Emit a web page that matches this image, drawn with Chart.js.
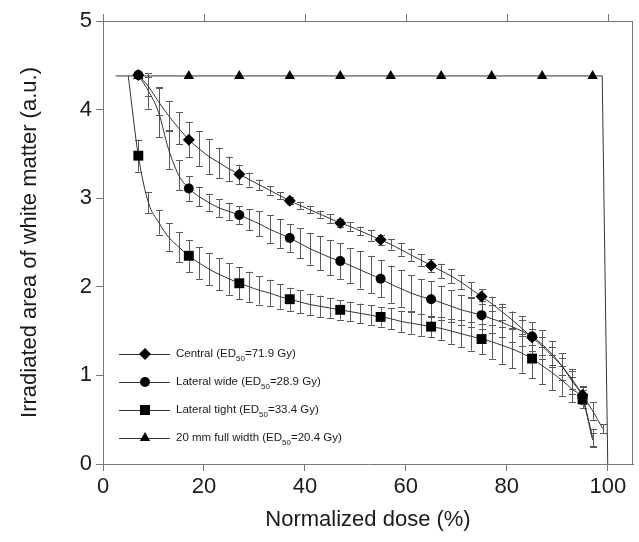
<!DOCTYPE html>
<html><head><meta charset="utf-8">
<script src="https://cdn.jsdelivr.net/npm/chart.js@4.4.1/dist/chart.umd.min.js"></script>
<style>html,body{margin:0;padding:0;background:#fff}#wrap{width:639px;height:542px;position:relative}</style>
</head><body><div id="wrap"><canvas id="c" width="639" height="542"></canvas></div>
<script>
// ---- data ----
const xTickLabels = [0, 20, 40, 60, 80, 100];
const yTickLabels = [0, 1, 2, 3, 4, 5];

const centralDose = [7,9,11,13,15,17,19,21,23,25,27,29,31,33,35,37,39,41,43,45,47,49,51,53,55,57,59,61,63,65,67,69,71,73,75,77,79,81,83,85,87,89,91,93,95,97,99];
const centralArea = [4.39,4.26,4.09,3.93,3.79,3.66,3.56,3.47,3.40,3.33,3.27,3.21,3.15,3.09,3.03,2.97,2.92,2.87,2.82,2.77,2.72,2.68,2.63,2.58,2.53,2.48,2.42,2.36,2.30,2.24,2.18,2.12,2.05,1.97,1.89,1.81,1.72,1.63,1.53,1.43,1.33,1.22,1.10,0.95,0.78,0.60,0.40];
const centralErr = [0.03,0.11,0.15,0.17,0.18,0.20,0.20,0.20,0.17,0.14,0.11,0.08,0.06,0.05,0.04,0.04,0.04,0.04,0.04,0.05,0.05,0.05,0.05,0.06,0.06,0.06,0.07,0.07,0.07,0.07,0.08,0.08,0.08,0.08,0.08,0.08,0.09,0.09,0.09,0.09,0.10,0.10,0.10,0.10,0.10,0.10,0.05];
const centralMarkers = [7,17,27,37,47,55,65,75,85,95];

const wideDose = [7,9,11,13,15,17,19,21,23,25,27,29,31,33,35,37,39,41,43,45,47,49,51,53,55,57,59,61,63,65,67,69,71,73,75,77,79,81,83,85,87,89,91,93,95,97];
const wideArea = [4.39,4.21,3.97,3.55,3.26,3.11,3.02,2.95,2.89,2.85,2.81,2.76,2.71,2.65,2.60,2.55,2.49,2.43,2.38,2.33,2.29,2.24,2.19,2.14,2.09,2.03,1.98,1.93,1.89,1.86,1.82,1.78,1.74,1.71,1.68,1.64,1.60,1.55,1.50,1.44,1.35,1.24,1.10,0.93,0.75,0.30];
const wideErr = [0.03,0.20,0.28,0.22,0.17,0.14,0.11,0.10,0.10,0.10,0.10,0.12,0.14,0.16,0.16,0.16,0.17,0.18,0.19,0.20,0.20,0.20,0.21,0.21,0.21,0.21,0.21,0.20,0.20,0.20,0.19,0.18,0.17,0.16,0.16,0.16,0.17,0.17,0.17,0.16,0.16,0.15,0.15,0.14,0.12,0.10];
const wideMarkers = [7,17,27,37,47,55,65,75,85,95];

const tightDose = [5,7,9,11,13,15,17,19,21,23,25,27,29,31,33,35,37,39,41,43,45,47,49,51,53,55,57,59,61,63,65,67,69,71,73,75,77,79,81,83,85,87,89,91,93,95,97];
const tightArea = [4.38,3.48,2.95,2.73,2.56,2.45,2.35,2.27,2.20,2.14,2.09,2.04,2.00,1.96,1.93,1.89,1.86,1.83,1.80,1.78,1.76,1.74,1.72,1.70,1.68,1.66,1.64,1.61,1.59,1.57,1.55,1.53,1.50,1.47,1.44,1.41,1.38,1.34,1.30,1.25,1.19,1.11,1.03,0.94,0.84,0.73,0.27];
const tightErr = [0,0.18,0.12,0.14,0.16,0.17,0.18,0.18,0.18,0.18,0.18,0.18,0.17,0.16,0.15,0.14,0.13,0.13,0.12,0.12,0.11,0.11,0.11,0.11,0.11,0.11,0.12,0.12,0.12,0.12,0.12,0.13,0.14,0.15,0.16,0.17,0.19,0.21,0.22,0.22,0.22,0.21,0.20,0.17,0.14,0.10,0.08];
const tightMarkers = [7,17,27,37,47,55,65,75,85,95];

const fullDose = [2.5,7,17,27,37,47,57,67,77,87,97,98.9,100];
const fullArea = [4.38,4.38,4.38,4.38,4.38,4.38,4.38,4.38,4.38,4.38,4.38,4.38,0];
const fullMarkers = [7,17,27,37,47,57,67,77,87,97];

const seriesNames = ['Central', 'Lateral wide', 'Lateral tight', '20 mm full width'];
const ed50Values = ['71.9', '28.9', '33.4', '20.4'];
const xTitle = 'Normalized dose (%)';
const yTitle = 'Irradiated area of white matter (a.u.)';

// ---- build ----
function pts(xs, ys) { return xs.map((x, i) => ({ x: x, y: ys[i] })); }
function radiusFor(markers, r) {
  return ctx => (ctx.raw && markers.includes(ctx.raw.x)) ? r : 0;
}
const FONT = '"Liberation Sans", Arial, sans-serif';
const INK = '#1a1a1a';
const LINE = '#333';

const datasets = [
  { label: seriesNames[0], data: pts(centralDose, centralArea), err: centralErr, pointStyle: 'rectRot', pointRadius: radiusFor(centralMarkers, 6) },
  { label: seriesNames[1], data: pts(wideDose, wideArea), err: wideErr, pointStyle: 'circle', pointRadius: radiusFor(wideMarkers, 5) },
  { label: seriesNames[2], data: pts(tightDose, tightArea), err: tightErr, pointStyle: 'rect', pointRadius: radiusFor(tightMarkers, 7) },
  { label: seriesNames[3], data: pts(fullDose, fullArea), pointStyle: 'triangle', pointRadius: radiusFor(fullMarkers, 6), tension: 0, cubicInterpolationMode: 'default' }
].map(d => Object.assign({
  borderColor: LINE, borderWidth: 1, backgroundColor: '#000', pointBackgroundColor: '#000', pointBorderColor: '#000',
  pointBorderWidth: 0, pointHoverRadius: 0, fill: false, cubicInterpolationMode: 'monotone'
}, d));

const errorBarPlugin = {
  id: 'errorBars',
  beforeDatasetsDraw(chart) {
    const ctx = chart.ctx, xs = chart.scales.x, ys = chart.scales.y;
    ctx.save();
    ctx.strokeStyle = '#5a5a5a';
    ctx.lineWidth = 1;
    chart.data.datasets.forEach(ds => {
      if (!ds.err) return;
      ds.data.forEach((p, i) => {
        const e = ds.err[i];
        if (!e) return;
        const px = Math.round(xs.getPixelForValue(p.x)) + 0.5;
        const y1 = ys.getPixelForValue(p.y + e), y2 = ys.getPixelForValue(p.y - e);
        ctx.beginPath();
        ctx.moveTo(px, y1); ctx.lineTo(px, y2);
        ctx.moveTo(px - 3.5, Math.round(y1) + 0.5); ctx.lineTo(px + 3.5, Math.round(y1) + 0.5);
        ctx.moveTo(px - 3.5, Math.round(y2) + 0.5); ctx.lineTo(px + 3.5, Math.round(y2) + 0.5);
        ctx.stroke();
      });
    });
    ctx.restore();
  }
};

function drawMarker(ctx, style, x, y) {
  ctx.beginPath();
  if (style === 'rectRot') { const r = 6; ctx.moveTo(x, y - r); ctx.lineTo(x + r, y); ctx.lineTo(x, y + r); ctx.lineTo(x - r, y); }
  else if (style === 'circle') { ctx.arc(x, y, 5, 0, Math.PI * 2); }
  else if (style === 'rect') { ctx.rect(x - 5, y - 5, 10, 10); }
  else { ctx.moveTo(x, y - 6); ctx.lineTo(x + 5.2, y + 3); ctx.lineTo(x - 5.2, y + 3); }
  ctx.closePath();
  ctx.fill();
}

const framePlugin = {
  id: 'frameAndText',
  afterDraw(chart) {
    const ctx = chart.ctx, a = chart.chartArea, xs = chart.scales.x;
    ctx.save();
    ctx.strokeStyle = '#777';
    ctx.lineWidth = 1;
    ctx.beginPath();
    ctx.moveTo(a.left, a.top + 0.5); ctx.lineTo(a.right, a.top + 0.5);
    ctx.moveTo(a.right - 0.5, a.top); ctx.lineTo(a.right - 0.5, a.bottom);
    xTickLabels.forEach(v => {
      const px = Math.round(xs.getPixelForValue(v)) + 0.5;
      ctx.moveTo(px, a.top); ctx.lineTo(px, a.top - 7);
    });
    ctx.stroke();

    // legend
    const styles = ['rectRot', 'circle', 'rect', 'triangle'];
    ctx.fillStyle = INK;
    ctx.textBaseline = 'middle';
    const lx = a.left + 16, rowY0 = 354, rowGap = 28;
    styles.forEach((s, i) => {
      const y = rowY0 + i * rowGap;
      ctx.strokeStyle = LINE;
      ctx.beginPath(); ctx.moveTo(lx, y + 0.5); ctx.lineTo(lx + 51, y + 0.5); ctx.stroke();
      ctx.fillStyle = '#000';
      drawMarker(ctx, s, lx + 26, y);
      ctx.fillStyle = INK;
      let tx = lx + 57;
      ctx.font = '11.5px ' + FONT;
      const t1 = seriesNames[i] + ' (ED';
      ctx.fillText(t1, tx, y); tx += ctx.measureText(t1).width;
      ctx.font = '8px ' + FONT;
      ctx.fillText('50', tx, y + 5); tx += ctx.measureText('50').width;
      ctx.font = '11.5px ' + FONT;
      ctx.fillText('=' + ed50Values[i] + ' Gy)', tx, y);
    });

    // axis titles
    ctx.fillStyle = INK;
    ctx.font = '22px ' + FONT;
    ctx.textAlign = 'center';
    ctx.textBaseline = 'middle';
    ctx.fillText(xTitle, (a.left + a.right) / 2, 520);
    ctx.save();
    ctx.translate(30, (a.top + a.bottom) / 2);
    ctx.rotate(-Math.PI / 2);
    ctx.fillText(yTitle, 0, 0);
    ctx.restore();
    ctx.restore();
  }
};

new Chart(document.getElementById('c'), {
  type: 'line',
  data: { datasets: datasets },
  plugins: [errorBarPlugin, framePlugin],
  options: {
    responsive: false,
    animation: false,
    devicePixelRatio: 1,
    layout: { padding: { top: 21, right: 5, left: 0, bottom: 0 } },
    plugins: { legend: { display: false }, tooltip: { enabled: false } },
    scales: {
      x: {
        type: 'linear', min: 0, max: 105,
        afterFit: s => { s.height = 78; },
        afterBuildTicks: s => { s.ticks = xTickLabels.map(v => ({ value: v })); },
        ticks: { font: { family: FONT, size: 22 }, color: INK, padding: 3, maxRotation: 0 },
        grid: { drawOnChartArea: false, drawTicks: true, tickLength: 7, color: '#777' },
        border: { display: true, color: '#777' }
      },
      y: {
        type: 'linear', min: 0, max: 5,
        afterFit: s => { s.width = 103; },
        afterBuildTicks: s => { s.ticks = yTickLabels.map(v => ({ value: v })); },
        ticks: { font: { family: FONT, size: 22 }, color: INK, padding: 4 },
        grid: { drawOnChartArea: false, drawTicks: true, tickLength: 7, color: '#777' },
        border: { display: true, color: '#777' }
      }
    }
  }
});
</script></body></html>
